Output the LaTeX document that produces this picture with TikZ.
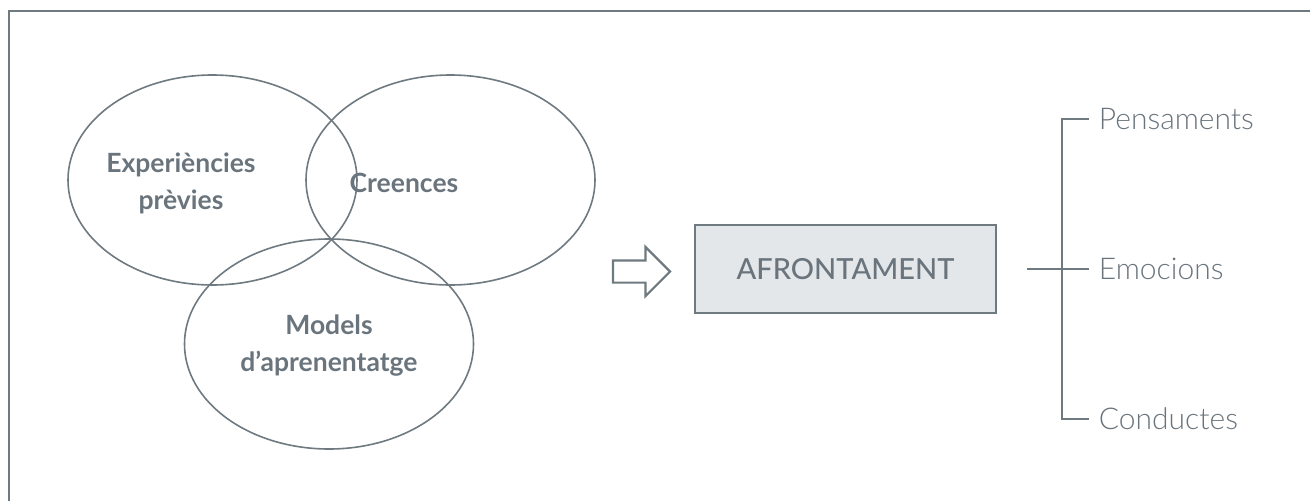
\documentclass[tikz,border=0pt]{standalone}
\usepackage{fontspec}
\setmainfont{Lato}[BoldFont={Lato Bold}]
\newfontfamily\lightfont{Lato Light}
\newfontfamily\midfont{Lato Medium}
\usepackage{tikz}
\usetikzlibrary{shapes.geometric,shapes.arrows}
\definecolor{framegray}{HTML}{6F7980}
\definecolor{textgray}{HTML}{6A747C}
\definecolor{boxfill}{HTML}{E4E7EA}

\tikzset{
  bubble/.style={ellipse,draw=framegray,line width=1.6pt,minimum width=289pt,minimum height=210pt},
  bubbletext/.style={text=textgray,font=\bfseries\fontsize{26.5}{37}\selectfont,align=center},
  outcome/.style={text=textgray,font=\lightfont\fontsize{30}{32}\selectfont,anchor=west,inner xsep=9pt}
}

\begin{document}
\begin{tikzpicture}[x=1pt,y=-1pt,line width=1.8pt]
  \useasboundingbox (0,0) rectangle (1310,501);
  \draw[framegray] (9,501) -- (9,11) -- (1310,11);
  \node[bubble] (exper) at (212.5,180) {};
  \node[bubble] (creen) at (450.5,180) {};
  \node[bubble] (model) at (329,344) {};
  \node[bubbletext] (experlab) at (181,183) {Experiències\\prèvies};
  \node[bubbletext] (creenlab) at (404,183) {Creences};
  \node[bubbletext] (modellab) at (329,346) {Models\\d’aprenentatge};
  \node[single arrow,draw=framegray,line width=2.2pt,inner xsep=0pt,inner ysep=10pt,minimum height=57pt,
    single arrow head extend=13.5pt,text width=0pt] (push) at (636,271.5) {};
  \node[draw=framegray,fill=boxfill,minimum width=301pt,minimum height=88pt,text=textgray,
    font=\midfont\fontsize{29}{30}\selectfont] (afront) at (845.5,269) {AFRONTAMENT};
  \node[outcome] (pens) at (1089,119) {Pensaments};
  \node[outcome] (emoc) at (1089,269) {Emocions};
  \node[outcome] (cond) at (1089,419) {Conductes};
  \draw[framegray] (pens.west) -- ++(-27,0) |- (cond.west);
  \draw[framegray] ([xshift=30pt]afront.east) -- (emoc.west);
\end{tikzpicture}
\end{document}
